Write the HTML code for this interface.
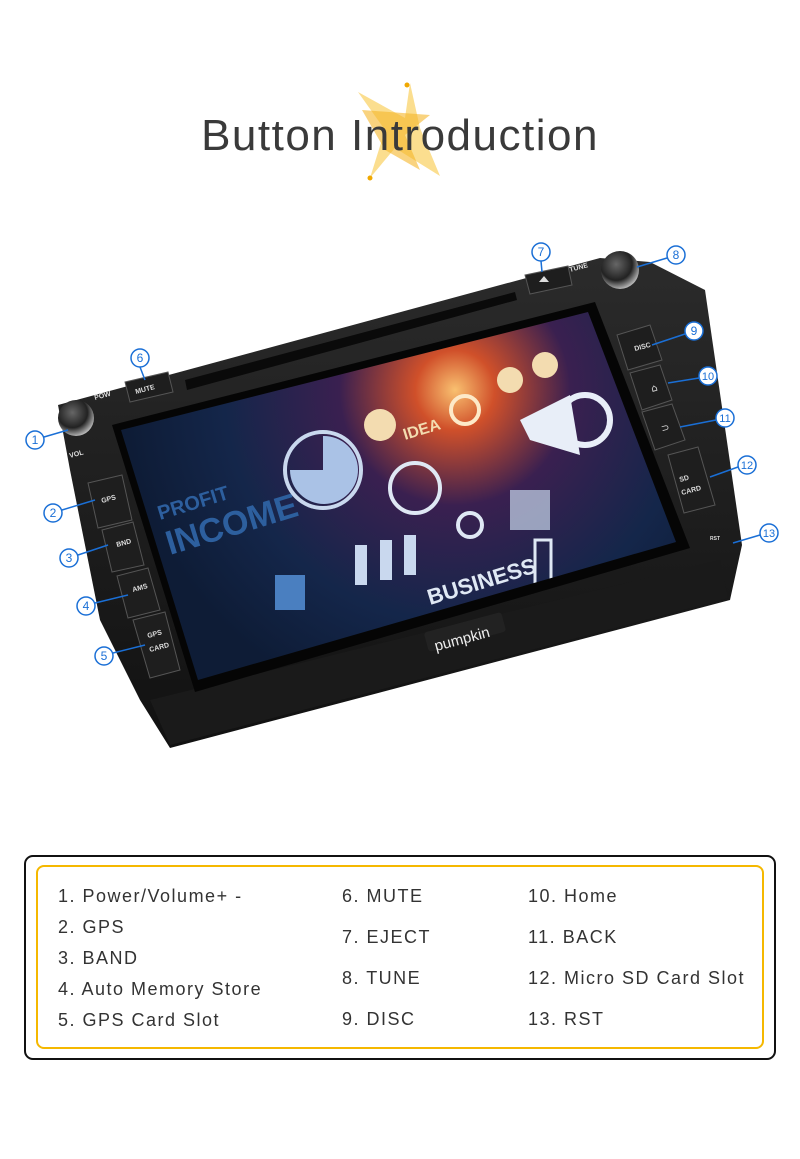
<!DOCTYPE html>
<html><head><meta charset="utf-8"><style>
html,body{margin:0;padding:0;background:#fff;}
body{width:800px;height:1159px;position:relative;overflow:hidden;font-family:"Liberation Sans",sans-serif;}
.t{position:absolute;font-size:18px;color:#333;letter-spacing:1.5px;white-space:nowrap;}
</style></head><body>
<svg width="800" height="1159" style="position:absolute;left:0;top:0">
<defs>
<radialGradient id="glow" cx="455" cy="390" r="330" gradientUnits="userSpaceOnUse">
<stop offset="0" stop-color="#f9c070"/><stop offset="0.12" stop-color="#d0502a"/><stop offset="0.35" stop-color="#3a2050"/><stop offset="0.7" stop-color="#14264a"/><stop offset="1" stop-color="#0e1c36"/>
</radialGradient>
<linearGradient id="body" x1="0" y1="0" x2="0" y2="1"><stop offset="0" stop-color="#2b2b2b"/><stop offset="1" stop-color="#111"/></linearGradient>
<radialGradient id="knob" cx="0.4" cy="0.35" r="0.7"><stop offset="0" stop-color="#666"/><stop offset="0.6" stop-color="#222"/><stop offset="1" stop-color="#ccc"/></radialGradient>
<clipPath id="scr"><polygon points="121,430 588,312 676,542 198,680"/></clipPath>
</defs>
<polygon points="358,92 405,118 410,83 420,128 440,176 395,148 370,178 385,130" fill="#f9d36a" opacity="0.75"/>
<polygon points="362,110 430,115 405,135 420,170 385,150" fill="#f5b62a" opacity="0.6"/>
<circle cx="407" cy="85" r="2.5" fill="#f0a800"/><circle cx="370" cy="178" r="2.5" fill="#f0a800"/>
<text x="400" y="150" text-anchor="middle" font-family="Liberation Sans,sans-serif" font-size="44" fill="#3a3a3a" letter-spacing="1.5">Button Introduction</text>
<polygon points="58,405 600,258 650,262 705,290 742,545 730,600 170,748 140,700 100,620 70,470" fill="url(#body)"/>
<polygon points="150,700 720,560 728,598 170,745" fill="#1a1a1a"/>
<polygon points="112,425 595,302 690,548 195,692" fill="#050505"/>
<polygon points="121,430 588,312 676,542 198,680" fill="url(#glow)"/>
<g clip-path="url(#scr)" font-family="Liberation Sans,sans-serif" font-weight="bold">
<text x="170" y="555" font-size="34" fill="#2d5f9e" transform="rotate(-17 170 555)">INCOME</text>
<text x="160" y="520" font-size="20" fill="#2d5f9e" transform="rotate(-17 160 520)">PROFIT</text>
<text x="430" y="605" font-size="22" fill="#dfe8f4" transform="rotate(-17 430 605)">BUSINESS</text>
<text x="405" y="440" font-size="16" fill="#f3dcb0" transform="rotate(-17 405 440)">IDEA</text>
<circle cx="323" cy="470" r="38" fill="none" stroke="#c9d8ee" stroke-width="4"/>
<path d="M323,470 L323,436 A34,34 0 1,1 290,470 Z" fill="#aac2e6"/>
<circle cx="415" cy="488" r="25" fill="none" stroke="#dfe8f4" stroke-width="4"/>
<circle cx="380" cy="425" r="16" fill="#f3dcb0"/>
<circle cx="465" cy="410" r="14" fill="none" stroke="#fde9c8" stroke-width="4"/>
<polygon points="520,420 570,395 580,455 530,440" fill="#e8eef8"/>
<circle cx="585" cy="420" r="25" fill="none" stroke="#e8eef8" stroke-width="6"/>
<circle cx="510" cy="380" r="13" fill="#f3dcb0"/><circle cx="545" cy="365" r="13" fill="#f3dcb0"/>
<rect x="355" y="545" width="12" height="40" fill="#c9d8ee"/><rect x="380" y="540" width="12" height="40" fill="#c9d8ee"/><rect x="404" y="535" width="12" height="40" fill="#c9d8ee"/>
<rect x="275" y="575" width="30" height="35" fill="#4a7fc0"/>
<circle cx="470" cy="525" r="12" fill="none" stroke="#dfe8f4" stroke-width="4"/>
<rect x="510" y="490" width="40" height="40" fill="#c9d8ee" opacity="0.7"/>
<rect x="535" y="540" width="16" height="45" fill="none" stroke="#dfe8f4" stroke-width="3"/>
</g>
<polygon points="185,380 515,292 517,300 187,390" fill="#0a0a0a"/>
<g fill="#1e1e1e" stroke="#555" stroke-width="1">
<polygon points="88,483 122,475 132,520 98,528"/>
<polygon points="102,530 133,522 144,565 112,572"/>
<polygon points="117,576 148,568 160,610 128,618"/>
<polygon points="133,620 165,612 180,670 150,678"/>
<polygon points="125,382 168,372 173,392 130,402"/>
<polygon points="525,275 568,266 572,285 530,294"/>
<polygon points="617,335 650,325 662,360 628,370"/>
<polygon points="630,373 660,365 672,400 642,410"/>
<polygon points="642,412 672,404 685,440 655,450"/>
<polygon points="668,455 698,447 715,505 684,513"/>
</g>
<g font-family="Liberation Sans,sans-serif" font-size="7" fill="#ddd" font-weight="bold">
<text x="102" y="503" transform="rotate(-15 102 503)">GPS</text>
<text x="117" y="547" transform="rotate(-15 117 547)">BND</text>
<text x="133" y="592" transform="rotate(-15 133 592)">AMS</text>
<text x="148" y="638" transform="rotate(-15 148 638)">GPS</text>
<text x="150" y="652" transform="rotate(-15 150 652)">CARD</text>
<text x="136" y="394" transform="rotate(-15 136 394)">MUTE</text>
<text x="635" y="351" transform="rotate(-15 635 351)">DISC</text>
<text x="680" y="482" transform="rotate(-15 680 482)">SD</text>
<text x="682" y="495" transform="rotate(-15 682 495)">CARD</text>
<text x="95" y="400" transform="rotate(-15 95 400)">POW</text>
<text x="70" y="458" transform="rotate(-15 70 458)">VOL</text>
<text x="570" y="272" transform="rotate(-15 570 272)">TUNE</text>
<text x="710" y="540" font-size="5">RST</text>
</g>
<text x="652" y="392" font-family="DejaVu Sans,sans-serif" font-size="10" fill="#ddd" transform="rotate(-15 652 392)">⌂</text>
<text x="662" y="432" font-family="DejaVu Sans,sans-serif" font-size="10" fill="#ddd" transform="rotate(-15 662 432)">⊃</text>
<polygon points="544,276 549,282 539,282" fill="#ddd"/>
<circle cx="76" cy="418" r="18" fill="url(#knob)"/>
<circle cx="620" cy="270" r="19" fill="url(#knob)"/>
<rect x="425" y="622" width="80" height="20" rx="3" fill="#222" transform="rotate(-15 465 632)"/>
<text x="432" y="643" font-family="Liberation Sans,sans-serif" font-size="15" fill="#eee" transform="rotate(-15 465 632)">pumpkin</text>
<g stroke="#1a6fd6" stroke-width="1.5" fill="none">
<line x1="44" y1="437" x2="68" y2="430"/><line x1="62" y1="510" x2="95" y2="500"/><line x1="78" y1="555" x2="108" y2="545"/>
<line x1="95" y1="603" x2="128" y2="595"/><line x1="113" y1="653" x2="145" y2="645"/><line x1="140" y1="367" x2="145" y2="380"/>
<line x1="541" y1="261" x2="542" y2="272"/><line x1="667" y1="258" x2="637" y2="267"/><line x1="685" y1="334" x2="652" y2="345"/>
<line x1="699" y1="378" x2="668" y2="383"/><line x1="716" y1="420" x2="680" y2="427"/><line x1="738" y1="467" x2="710" y2="477"/>
<line x1="760" y1="535" x2="733" y2="543"/>
<circle cx="35" cy="440" r="9" fill="#fff"/><circle cx="53" cy="513" r="9" fill="#fff"/><circle cx="69" cy="558" r="9" fill="#fff"/>
<circle cx="86" cy="606" r="9" fill="#fff"/><circle cx="104" cy="656" r="9" fill="#fff"/><circle cx="140" cy="358" r="9" fill="#fff"/>
<circle cx="541" cy="252" r="9" fill="#fff"/><circle cx="676" cy="255" r="9" fill="#fff"/><circle cx="694" cy="331" r="9" fill="#fff"/>
<circle cx="708" cy="376" r="9" fill="#fff"/><circle cx="725" cy="418" r="9" fill="#fff"/><circle cx="747" cy="465" r="9" fill="#fff"/>
<circle cx="769" cy="533" r="9" fill="#fff"/>
</g>
<g font-family="Liberation Sans,sans-serif" font-size="12" fill="#1a6fd6" text-anchor="middle">
<text x="35" y="444">1</text><text x="53" y="517">2</text><text x="69" y="562">3</text><text x="86" y="610">4</text><text x="104" y="660">5</text>
<text x="140" y="362">6</text><text x="541" y="256">7</text><text x="676" y="259">8</text><text x="694" y="335">9</text>
<text x="708" y="380" font-size="11">10</text><text x="725" y="422" font-size="11">11</text><text x="747" y="469" font-size="11">12</text><text x="769" y="537" font-size="11">13</text>
</g>
<rect x="25" y="856" width="750" height="203" rx="8" fill="none" stroke="#111" stroke-width="2"/>
<rect x="37" y="866" width="726" height="182" rx="7" fill="none" stroke="#f5b800" stroke-width="2"/>
</svg>
<div class="t" style="left:58px;top:886px">1. Power/Volume+ -</div>
<div class="t" style="left:58px;top:917px">2. GPS</div>
<div class="t" style="left:58px;top:948px">3. BAND</div>
<div class="t" style="left:58px;top:979px">4. Auto Memory Store</div>
<div class="t" style="left:58px;top:1010px">5. GPS Card Slot</div>
<div class="t" style="left:342px;top:886px">6. MUTE</div>
<div class="t" style="left:342px;top:927px">7. EJECT</div>
<div class="t" style="left:342px;top:968px">8. TUNE</div>
<div class="t" style="left:342px;top:1009px">9. DISC</div>
<div class="t" style="left:528px;top:886px">10. Home</div>
<div class="t" style="left:528px;top:927px">11. BACK</div>
<div class="t" style="left:528px;top:968px">12. Micro SD Card Slot</div>
<div class="t" style="left:528px;top:1009px">13. RST</div>
</body></html>
